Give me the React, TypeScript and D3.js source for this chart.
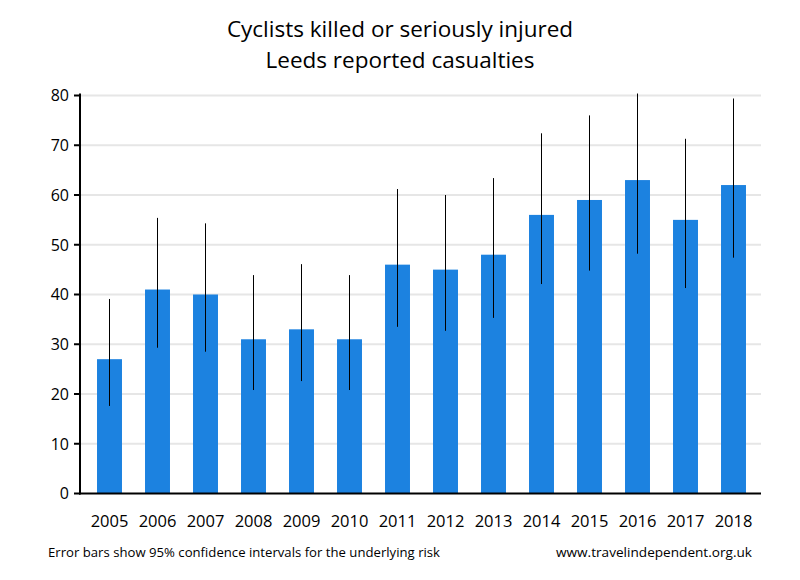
import React from "react";
import * as d3 from "d3";

const years = ["2005","2006","2007","2008","2009","2010","2011","2012","2013","2014","2015","2016","2017","2018"];
const casualties = [27, 41, 40, 31, 33, 31, 46, 45, 48, 56, 59, 63, 55, 62];
const ciLow = [17.6, 29.3, 28.5, 20.8, 22.6, 20.8, 33.5, 32.7, 35.3, 42.1, 44.8, 48.2, 41.3, 47.4];
const ciHigh = [39.1, 55.4, 54.3, 43.9, 46.1, 43.9, 61.2, 60.0, 63.4, 72.4, 76.0, 80.4, 71.3, 79.4];
const yTicks = [0, 10, 20, 30, 40, 50, 60, 70, 80];
const titleLines = ["Cyclists killed or seriously injured", "Leeds reported casualties"];
const footLeft = "Error bars show 95% confidence intervals for the underlying risk";
const footRight = "www.travelindependent.org.uk";

export default function App() {
  const W = 800, H = 580;
  const axisX = 80, plotRight = 761;
  const x = d3.scaleBand().domain(years).range([85.5, 757.5]).paddingInner(0.48).paddingOuter(0.24);
  const y = d3.scaleLinear().domain([0, 80]).range([493.5, 95.5]);
  const font = "'Open Sans', 'DejaVu Sans', sans-serif";
  return (
    <svg width={W} height={H} style={{ position: "absolute", left: 0, top: 0, background: "#fff" }}>
      {titleLines.map((t, i) => (
        <text key={t} x={400} y={37 + i * 31} textAnchor="middle" fontFamily={font} fontSize={22.5} fill="#000">{t}</text>
      ))}
      {yTicks.filter(v => v > 0).map(v => (
        <line key={"g" + v} x1={axisX} x2={plotRight} y1={y(v)} y2={y(v)} stroke="#e6e6e6" strokeWidth={2} />
      ))}
      {years.map((yr, i) => (
        <rect key={"b" + yr} x={x(yr)} width={x.bandwidth()} y={y(casualties[i])} height={y(0) - y(casualties[i])} fill="#1c82e0" />
      ))}
      {years.map((yr, i) => (
        <line key={"e" + yr} x1={x(yr)! + x.bandwidth() / 2} x2={x(yr)! + x.bandwidth() / 2} y1={y(ciHigh[i])} y2={y(ciLow[i])} stroke="#000" strokeWidth={1} />
      ))}
      <line x1={axisX} x2={axisX} y1={y(80) - 2} y2={y(0) + 1} stroke="#000" strokeWidth={2} />
      <line x1={axisX - 1} x2={plotRight} y1={y(0)} y2={y(0)} stroke="#000" strokeWidth={2} />
      {yTicks.map(v => (
        <g key={"t" + v}>
          <line x1={axisX - 6} x2={axisX} y1={y(v)} y2={y(v)} stroke="#000" strokeWidth={2} />
          <text x={axisX - 11} y={y(v)} dy="0.36em" textAnchor="end" fontFamily={font} fontSize={16} fill="#000">{v}</text>
        </g>
      ))}
      {years.map(yr => (
        <text key={"x" + yr} x={x(yr)! + x.bandwidth() / 2} y={527} textAnchor="middle" fontFamily={font} fontSize={16.5} fill="#000">{yr}</text>
      ))}
      <text x={48} y={557} fontFamily={font} fontSize={12.5} fill="#000" textLength={392} lengthAdjust="spacingAndGlyphs">{footLeft}</text>
      <text x={556} y={557} fontFamily={font} fontSize={12.5} fill="#000" textLength={196} lengthAdjust="spacingAndGlyphs">{footRight}</text>
    </svg>
  );
}
